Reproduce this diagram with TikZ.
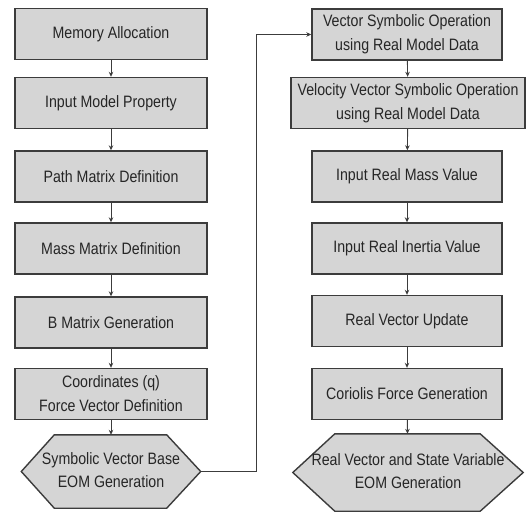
\documentclass[tikz,border=0pt]{standalone}
\usepackage{fontspec}
\setmainfont{Liberation Sans}[FakeStretch=0.86]
\usetikzlibrary{calc,arrows.meta,positioning,backgrounds}

\definecolor{boxgray}{HTML}{D5D5D5}
\definecolor{edgegray}{HTML}{3C3C3C}
\definecolor{txtgray}{HTML}{262626}

\begin{document}
\begin{tikzpicture}[x=1pt,y=-1pt,
    stage/.style={draw=edgegray,line width=1.4pt,fill=boxgray,
        minimum width=192pt,minimum height=51pt,inner sep=0pt,
        align=center,text=txtgray,font=\fontsize{16.5}{24}\selectfont},
    hexlabel/.style={inner sep=0pt,text=txtgray,
        font=\fontsize{16.5}{23}\selectfont},
    hexedge/.style={draw=edgegray,line width=1.4pt,fill=boxgray,line join=miter},
    flow/.style={draw=edgegray,line width=0.9pt,-{Stealth[length=5pt,width=4.5pt]}}]
        \useasboundingbox (0,0) rectangle (529,514);

        % Symbolic part
        \node[stage] (alloc) at (111,34) {Memory Allocation};
        \node[stage] (input) at (111,103) {Input Model Property};
        \node[stage] (path) at (111,176.5) {Path Matrix Definition};
        \node[stage] (mass) at (111,248.5) {Mass Matrix Definition};
        \node[stage] (bmat) at (111,322.5) {B Matrix Generation};
        \node[stage] (coord) at (111,394) {Coordinates (q)\\Force Vector Definition};
        \node[hexlabel,minimum width=179pt,minimum height=73pt] (symeom) at (111,471.5)
            {\raisebox{-2pt}{\begin{tabular}{@{}c@{}}Symbolic Vector Base\\EOM Generation\end{tabular}}};

        % Real model part
        \node[stage,minimum width=190pt] (vecop) at (407,34.5) {Vector Symbolic Operation\\using Real Model Data};
        \node[stage,minimum width=234pt] (velop) at (408,103) {Velocity Vector Symbolic Operation\\using Real Model Data};
        \node[stage,minimum width=190pt] (rmass) at (407,176.5) {Input Real Mass Value};
        \node[stage,minimum width=190pt] (rinertia) at (407,248.5) {Input Real Inertia Value};
        \node[stage,minimum width=190pt] (update) at (407,321) {Real Vector Update};
        \node[stage,minimum width=190pt] (coriolis) at (407,394) {Coriolis Force Generation};
        \node[hexlabel,minimum width=230pt,minimum height=77pt] (realeom) at (408,472.5)
            {\raisebox{-5pt}{\begin{tabular}{@{}c@{}}Real Vector and State Variable\\EOM Generation\end{tabular}}};

        % Hexagon outlines behind the labels
        \begin{scope}[on background layer]
            \draw[hexedge] (symeom.west) -- ($(symeom.north west)+(33,0)$)
                -- ($(symeom.north east)+(-34,0)$) -- (symeom.east)
                -- ($(symeom.south east)+(-34,0)$) -- ($(symeom.south west)+(33,0)$) -- cycle;
            \draw[hexedge] (realeom.west) -- ($(realeom.north west)+(42,0)$)
                -- ($(realeom.north east)+(-43,0)$) -- (realeom.east)
                -- ($(realeom.south east)+(-43,0)$) -- ($(realeom.south west)+(42,0)$) -- cycle;
        \end{scope}

        % Flow
        \draw[flow] (alloc) -- (input);
        \draw[flow] (input) -- (path);
        \draw[flow] (path) -- (mass);
        \draw[flow] (mass) -- (bmat);
        \draw[flow] (bmat) -- (coord);
        \draw[flow] (coord) -- (symeom);
        \draw[flow] (symeom.east) -- ++(56,0) |- (vecop.west);
        \draw[flow] (vecop) -- (velop);
        \draw[flow] (velop) -- (rmass);
        \draw[flow] (rmass) -- (rinertia);
        \draw[flow] (rinertia) -- (update);
        \draw[flow] (update) -- (coriolis);
        \draw[flow] (coriolis) -- (realeom);

    \end{tikzpicture}
\end{document}
